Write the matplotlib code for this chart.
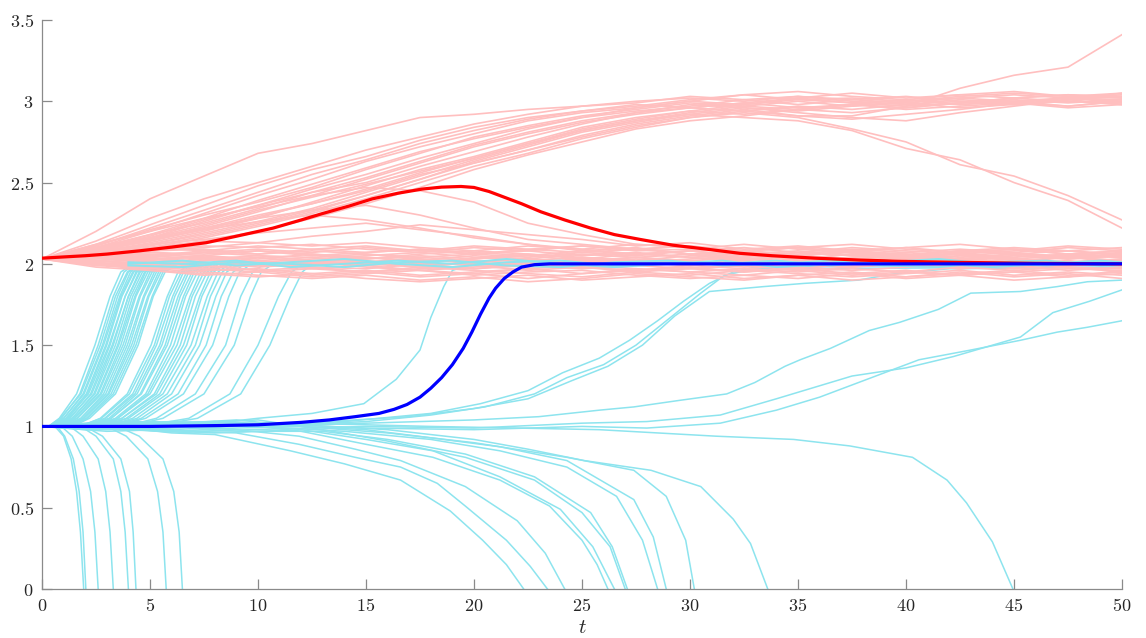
import matplotlib
matplotlib.use('Agg')
import matplotlib.pyplot as plt
from matplotlib.ticker import FuncFormatter

plt.rcParams['mathtext.fontset'] = 'cm'

# colours
pink = '#FFBFBF'
cyan = '#8DE4EE'

# ---------------- pink (upper state) trajectories, sampled every 2.5 time units
t_grid = [0, 2.5, 5, 7.5, 10, 12.5, 15, 17.5, 20, 22.5, 25, 27.5, 30, 32.5, 35, 37.5, 40, 42.5, 45, 47.5, 50]

pink_band = [
    [2.03, 2.05, 2.07, 2.06, 2.08, 2.05, 2.07, 2.09, 2.06, 2.08, 2.05, 2.07, 2.04, 2.06, 2.08, 2.05, 2.07, 2.04, 2.06, 2.05, 2.07],
    [2.03, 2.00, 1.98, 1.96, 1.97, 1.94, 1.96, 1.93, 1.95, 1.97, 1.94, 1.96, 1.98, 1.95, 1.97, 1.94, 1.96, 1.93, 1.95, 1.97, 1.96],
    [2.03, 2.04, 2.02, 2.05, 2.03, 2.06, 2.04, 2.02, 2.05, 2.03, 2.01, 2.04, 2.06, 2.03, 2.01, 2.03, 2.05, 2.06, 2.03, 2.01, 2.03],
    [2.03, 2.01, 2.03, 2.00, 2.02, 1.99, 2.01, 2.03, 2.00, 1.98, 2.00, 2.02, 1.99, 2.01, 2.03, 2.01, 1.99, 2.01, 2.03, 2.00, 2.02],
    [2.03, 2.06, 2.09, 2.11, 2.10, 2.12, 2.09, 2.07, 2.10, 2.08, 2.11, 2.09, 2.06, 2.08, 2.10, 2.07, 2.05, 2.08, 2.10, 2.08, 2.06],
    [2.03, 1.99, 1.97, 1.95, 1.93, 1.91, 1.93, 1.90, 1.92, 1.89, 1.91, 1.94, 1.92, 1.90, 1.93, 1.95, 1.92, 1.94, 1.96, 1.93, 1.95],
    [2.03, 2.02, 2.00, 2.02, 2.04, 2.01, 1.99, 2.01, 2.03, 2.05, 2.02, 2.00, 2.02, 2.04, 2.01, 1.99, 2.02, 2.00, 1.98, 2.00, 1.99],
    [2.03, 2.04, 2.06, 2.04, 2.01, 2.03, 2.05, 2.07, 2.04, 2.02, 2.04, 2.01, 2.03, 2.05, 2.03, 2.06, 2.04, 2.02, 2.04, 2.06, 2.04],
    [2.03, 2.01, 1.98, 1.99, 1.96, 1.98, 1.95, 1.97, 1.99, 1.96, 1.98, 1.95, 1.97, 1.99, 1.96, 1.98, 2.00, 1.97, 1.99, 1.96, 1.98],
    [2.03, 2.05, 2.04, 2.07, 2.09, 2.07, 2.10, 2.08, 2.11, 2.09, 2.07, 2.09, 2.11, 2.08, 2.06, 2.09, 2.07, 2.09, 2.07, 2.10, 2.08],
    [2.03, 2.00, 2.01, 1.98, 2.00, 1.97, 1.95, 1.98, 1.96, 1.94, 1.92, 1.95, 1.93, 1.96, 1.94, 1.92, 1.94, 1.96, 1.93, 1.95, 1.93],
    [2.03, 2.03, 2.05, 2.03, 2.00, 2.02, 2.00, 1.98, 2.01, 1.99, 2.02, 2.04, 2.01, 1.99, 1.97, 2.00, 2.02, 2.05, 2.02, 2.04, 2.01],
    [2.03, 2.02, 1.99, 1.97, 1.99, 2.01, 1.98, 1.96, 1.94, 1.97, 1.99, 1.97, 1.95, 1.97, 1.99, 2.02, 1.99, 1.97, 2.00, 1.98, 1.97],
    [2.03, 2.06, 2.08, 2.10, 2.13, 2.11, 2.13, 2.10, 2.08, 2.11, 2.09, 2.12, 2.10, 2.08, 2.10, 2.12, 2.09, 2.07, 2.09, 2.06, 2.08],
    [2.03, 2.00, 1.96, 1.94, 1.92, 1.94, 1.91, 1.89, 1.91, 1.93, 1.90, 1.92, 1.94, 1.91, 1.93, 1.90, 1.92, 1.95, 1.92, 1.94, 1.91],
    [2.03, 2.04, 2.01, 2.03, 2.05, 2.04, 2.06, 2.03, 2.01, 2.03, 2.06, 2.04, 2.02, 2.00, 2.02, 2.04, 2.06, 2.03, 2.05, 2.03, 2.05],
    [2.03, 2.02, 2.04, 2.01, 1.98, 2.00, 2.02, 1.99, 1.97, 2.00, 2.02, 1.99, 1.97, 1.95, 1.98, 1.96, 1.98, 2.00, 1.97, 1.99, 2.00],
    [2.03, 2.05, 2.08, 2.09, 2.06, 2.08, 2.06, 2.04, 2.06, 2.04, 2.07, 2.05, 2.08, 2.10, 2.07, 2.05, 2.03, 2.05, 2.07, 2.04, 2.06],
    [2.03, 2.06, 2.03, 2.05, 2.02, 2.04, 2.01, 2.04, 2.02, 2.00, 2.03, 2.06, 2.04, 2.02, 2.05, 2.08, 2.05, 2.03, 2.01, 2.04, 2.02],
    [2.03, 1.99, 2.00, 1.97, 1.95, 1.97, 1.99, 1.96, 1.98, 2.01, 1.98, 1.96, 1.99, 1.97, 1.95, 1.97, 1.95, 1.98, 1.96, 1.98, 1.95],
    [2.03, 2.07, 2.05, 2.08, 2.06, 2.09, 2.11, 2.08, 2.06, 2.09, 2.11, 2.08, 2.09, 2.12, 2.09, 2.07, 2.10, 2.12, 2.09, 2.08, 2.10],
    [2.03, 2.02, 2.05, 2.07, 2.05, 2.02, 2.04, 2.01, 1.99, 2.02, 2.00, 2.03, 2.00, 2.03, 2.05, 2.02, 2.00, 2.03, 2.01, 1.99, 2.02],
    [2.03, 2.00, 1.97, 1.99, 1.96, 1.93, 1.95, 1.92, 1.94, 1.91, 1.94, 1.97, 1.95, 1.93, 1.91, 1.94, 1.91, 1.93, 1.90, 1.92, 1.94],
    [2.03, 2.05, 2.07, 2.05, 2.08, 2.06, 2.03, 2.06, 2.08, 2.06, 2.04, 2.02, 2.05, 2.07, 2.05, 2.03, 2.05, 2.08, 2.06, 2.08, 2.05],
    [2.03, 2.01, 2.03, 2.04, 2.01, 1.98, 1.97, 2.00, 1.97, 1.99, 1.97, 1.99, 2.01, 1.98, 2.00, 1.98, 2.01, 1.98, 2.00, 2.02, 1.99],
    [2.03, 2.04, 2.00, 2.01, 1.99, 2.01, 2.03, 2.05, 2.03, 2.06, 2.03, 2.01, 1.99, 2.02, 1.99, 2.02, 2.04, 2.01, 1.98, 2.01, 2.03],
    [2.03, 2.06, 2.10, 2.08, 2.11, 2.09, 2.07, 2.09, 2.07, 2.05, 2.08, 2.06, 2.08, 2.05, 2.07, 2.10, 2.08, 2.06, 2.08, 2.11, 2.09],
    [2.03, 1.98, 1.96, 1.93, 1.95, 1.92, 1.94, 1.96, 1.93, 1.95, 1.96, 1.93, 1.91, 1.93, 1.96, 1.93, 1.95, 1.93, 1.95, 1.92, 1.96],
]

pink_mid = [
    [2.03, 2.08, 2.12, 2.15, 2.19, 2.22, 2.25, 2.21, 2.17, 2.12, 2.08, 2.10, 2.06, 2.08, 2.05, 2.07, 2.04, 2.06, 2.03, 2.05, 2.04],
    [2.03, 2.07, 2.10, 2.14, 2.13, 2.17, 2.20, 2.24, 2.21, 2.18, 2.15, 2.11, 2.13, 2.09, 2.11, 2.08, 2.10, 2.07, 2.09, 2.06, 2.08],
    [2.03, 2.09, 2.15, 2.21, 2.26, 2.30, 2.27, 2.22, 2.16, 2.12, 2.09, 2.06, 2.08, 2.05, 2.03, 2.06, 2.04, 2.02, 2.05, 2.03, 2.05],
    [2.03, 2.12, 2.20, 2.28, 2.35, 2.42, 2.47, 2.45, 2.38, 2.25, 2.18, 2.12, 2.10, 2.08, 2.10, 2.07, 2.05, 2.08, 2.06, 2.04, 2.06],
    [2.03, 2.10, 2.16, 2.22, 2.28, 2.33, 2.36, 2.30, 2.22, 2.15, 2.12, 2.09, 2.11, 2.07, 2.05, 2.08, 2.06, 2.03, 2.06, 2.04, 2.02],
]

pink_upper = [
    [2.03, 2.20, 2.40, 2.54, 2.68, 2.74, 2.82, 2.90, 2.92, 2.95, 2.97, 3.00, 3.02, 3.00, 3.03, 3.01, 2.99, 3.02, 3.04, 3.02, 3.04],
    [2.03, 2.14, 2.28, 2.40, 2.50, 2.60, 2.70, 2.78, 2.86, 2.92, 2.97, 2.99, 3.03, 3.01, 2.98, 3.01, 3.03, 3.00, 2.98, 3.01, 3.03],
    [2.03, 2.12, 2.24, 2.36, 2.48, 2.58, 2.66, 2.76, 2.84, 2.90, 2.94, 2.98, 2.96, 2.99, 3.02, 2.99, 2.97, 2.99, 3.02, 3.00, 2.98],
    [2.03, 2.10, 2.20, 2.31, 2.42, 2.52, 2.63, 2.72, 2.80, 2.88, 2.93, 2.96, 3.00, 3.04, 3.01, 3.02, 3.00, 3.03, 3.05, 3.03, 3.02],
    [2.03, 2.11, 2.21, 2.30, 2.38, 2.47, 2.58, 2.68, 2.78, 2.85, 2.91, 2.95, 2.99, 2.97, 2.95, 2.93, 2.96, 2.99, 3.01, 2.99, 3.01],
    [2.03, 2.09, 2.17, 2.27, 2.36, 2.46, 2.55, 2.65, 2.74, 2.83, 2.90, 2.94, 2.97, 3.01, 3.03, 3.00, 2.98, 3.00, 2.98, 3.00, 2.99],
    [2.03, 2.08, 2.15, 2.23, 2.32, 2.42, 2.52, 2.62, 2.72, 2.80, 2.87, 2.92, 2.96, 2.99, 2.96, 2.98, 3.01, 2.98, 3.00, 2.97, 3.00],
    [2.03, 2.10, 2.18, 2.25, 2.34, 2.44, 2.50, 2.60, 2.69, 2.78, 2.86, 2.93, 2.98, 2.96, 2.93, 2.90, 2.88, 2.93, 2.97, 3.01, 3.05],
    [2.03, 2.07, 2.13, 2.20, 2.28, 2.38, 2.48, 2.58, 2.66, 2.75, 2.84, 2.90, 2.94, 2.92, 2.95, 2.98, 2.96, 2.99, 3.02, 3.04, 3.02],
    [2.03, 2.06, 2.12, 2.19, 2.26, 2.34, 2.44, 2.54, 2.64, 2.73, 2.82, 2.88, 2.93, 2.97, 3.00, 2.97, 2.99, 2.96, 2.98, 3.01, 2.98],
    [2.03, 2.08, 2.14, 2.22, 2.30, 2.37, 2.45, 2.55, 2.62, 2.70, 2.79, 2.86, 2.91, 2.95, 2.91, 2.89, 2.92, 2.95, 2.99, 3.02, 3.00],
    [2.03, 2.09, 2.16, 2.26, 2.36, 2.44, 2.53, 2.63, 2.73, 2.81, 2.88, 2.93, 2.96, 2.94, 2.91, 2.91, 2.97, 3.08, 3.16, 3.21, 3.41],
    [2.03, 2.07, 2.12, 2.18, 2.25, 2.33, 2.42, 2.52, 2.62, 2.70, 2.78, 2.85, 2.90, 2.93, 2.90, 2.83, 2.75, 2.61, 2.54, 2.42, 2.27],
    [2.03, 2.08, 2.14, 2.21, 2.29, 2.37, 2.46, 2.56, 2.65, 2.74, 2.82, 2.88, 2.92, 2.90, 2.88, 2.82, 2.71, 2.64, 2.50, 2.39, 2.22],
    [2.03, 2.08, 2.16, 2.24, 2.33, 2.41, 2.49, 2.57, 2.65, 2.74, 2.83, 2.89, 2.94, 2.98, 3.02, 3.05, 3.02, 3.04, 3.06, 3.03, 3.05],
    [2.03, 2.06, 2.10, 2.16, 2.23, 2.31, 2.40, 2.50, 2.60, 2.68, 2.77, 2.84, 2.90, 2.94, 2.97, 2.95, 2.98, 3.01, 2.99, 2.97, 3.00],
    [2.03, 2.11, 2.22, 2.33, 2.44, 2.55, 2.64, 2.74, 2.82, 2.89, 2.94, 2.97, 3.01, 3.04, 3.06, 3.03, 3.01, 3.04, 3.02, 3.04, 3.03],
    [2.03, 2.07, 2.11, 2.17, 2.24, 2.32, 2.42, 2.52, 2.63, 2.72, 2.81, 2.87, 2.92, 2.96, 2.94, 2.97, 3.00, 3.02, 3.00, 3.02, 2.99],
    [2.03, 2.09, 2.18, 2.28, 2.39, 2.49, 2.59, 2.69, 2.77, 2.84, 2.90, 2.96, 3.00, 2.98, 3.01, 2.99, 3.01, 2.98, 3.00, 3.02, 3.01],
    [2.03, 2.05, 2.09, 2.14, 2.20, 2.28, 2.37, 2.47, 2.58, 2.67, 2.75, 2.83, 2.88, 2.91, 2.95, 2.98, 2.95, 2.97, 2.99, 2.96, 2.98],
]

# ---------------- cyan (lower state) trajectories
# fast switches 1 -> 2: time at which each path crosses these levels
up_levels = [1.0, 1.05, 1.2, 1.5, 1.8, 1.95, 2.0]
up_times = [
    [0.3, 0.8, 1.6, 2.45, 3.15, 3.65, 4.2],
    [0.4, 0.9, 1.75, 2.6, 3.3, 3.8, 4.3],
    [0.3, 0.85, 1.8, 2.7, 3.4, 3.95, 4.5],
    [0.5, 1.0, 1.9, 2.8, 3.5, 4.0, 4.6],
    [0.4, 1.0, 1.95, 2.85, 3.6, 4.1, 4.6],
    [0.5, 1.1, 2.05, 2.95, 3.65, 4.2, 4.8],
    [0.6, 1.2, 2.1, 3.0, 3.7, 4.25, 4.8],
    [0.5, 1.15, 2.15, 3.1, 3.85, 4.35, 4.9],
    [0.7, 1.3, 2.25, 3.15, 3.85, 4.4, 5.0],
    [0.6, 1.25, 2.3, 3.25, 4.0, 4.5, 5.1],
    [0.8, 1.4, 2.4, 3.3, 4.0, 4.55, 5.1],
    [0.7, 1.4, 2.45, 3.4, 4.1, 4.65, 5.2],
    [0.9, 1.5, 2.55, 3.5, 4.2, 4.75, 5.3],
    [0.8, 1.5, 2.6, 3.55, 4.3, 4.8, 5.4],
    [1.0, 1.6, 2.7, 3.65, 4.35, 4.9, 5.5],
    [0.9, 1.65, 2.75, 3.75, 4.5, 5.0, 5.6],
    [1.1, 1.8, 2.85, 3.85, 4.55, 5.1, 5.7],
    [1.0, 1.8, 2.95, 3.95, 4.7, 5.2, 5.8],
    [1.2, 1.9, 3.05, 4.05, 4.75, 5.3, 5.9],
    [1.1, 1.95, 3.1, 4.15, 4.9, 5.4, 6.0],
    [1.3, 2.05, 3.2, 4.25, 4.95, 5.5, 6.1],
    [1.2, 2.1, 3.3, 4.35, 5.1, 5.6, 6.2],
    [1.4, 2.2, 3.4, 4.45, 5.15, 5.7, 6.3],
    [1.8, 2.7, 3.95, 5.05, 5.8, 6.3, 6.9],
    [1.7, 2.75, 4.05, 5.2, 5.9, 6.45, 7.0],
    [2.0, 2.9, 4.2, 5.3, 6.05, 6.55, 7.2],
    [1.9, 2.95, 4.3, 5.45, 6.15, 6.7, 7.3],
    [2.1, 3.1, 4.4, 5.55, 6.3, 6.8, 7.4],
    [2.2, 3.2, 4.55, 5.7, 6.4, 6.95, 7.5],
    [2.1, 3.2, 4.6, 5.8, 6.55, 7.05, 7.6],
    [2.3, 3.4, 4.8, 5.95, 6.65, 7.2, 7.8],
    [2.4, 3.5, 4.9, 6.1, 6.85, 7.35, 7.9],
    [2.3, 3.5, 5.0, 6.25, 6.95, 7.5, 8.1],
    [2.6, 3.7, 5.2, 6.4, 7.1, 7.65, 8.2],
    [2.5, 3.7, 5.3, 6.55, 7.3, 7.8, 8.4],
    [2.8, 3.9, 5.45, 6.7, 7.4, 7.95, 8.5],
    [2.7, 4.0, 5.6, 6.9, 7.65, 8.15, 8.7],
    [3.0, 4.2, 5.8, 7.1, 7.8, 8.35, 8.9],
    [3.1, 4.4, 6.0, 7.3, 8.05, 8.55, 9.1],
    [3.3, 4.6, 6.3, 7.6, 8.3, 8.85, 9.4],
    [3.4, 4.8, 6.55, 7.9, 8.65, 9.15, 9.7],
    [3.8, 5.3, 7.1, 8.5, 9.2, 9.75, 10.3],
    [4.0, 5.6, 7.5, 8.9, 9.65, 10.15, 10.7],
    [4.6, 6.8, 8.7, 10.0, 10.95, 11.55, 12.1],
    [5.0, 7.2, 9.2, 10.55, 11.5, 12.05, 12.5],
]

# fast extinctions 1 -> 0
drop_levels = [1.0, 0.94, 0.8, 0.6, 0.35, 0.0]
drop_times = [
    [0.6, 1.0, 1.35, 1.6, 1.78, 1.93],
    [0.7, 1.05, 1.45, 1.72, 1.9, 2.03],
    [0.9, 1.4, 1.9, 2.25, 2.45, 2.6],
    [1.3, 1.9, 2.6, 2.95, 3.15, 3.3],
    [1.8, 2.5, 3.3, 3.65, 3.85, 4.0],
    [2.0, 2.8, 3.65, 4.05, 4.22, 4.35],
    [3.0, 3.9, 4.9, 5.35, 5.6, 5.75],
    [3.5, 4.5, 5.6, 6.1, 6.35, 6.5],
]

# slow paths, (t, y) points
cyan_late_drops = [
    [(0, 1.0), (2, 0.98), (4, 0.99), (6, 0.96), (8, 0.95), (11.5, 0.85), (14, 0.77), (16.6, 0.67), (18.9, 0.48), (20.4, 0.3), (21.5, 0.15), (22.3, 0.0)],
    [(0, 1.0), (2.5, 1.02), (5, 0.99), (7, 0.97), (9, 0.96), (11.9, 0.89), (14.5, 0.81), (16.6, 0.75), (18.3, 0.65), (19.6, 0.51), (21.5, 0.3), (22.6, 0.14), (23.4, 0.0)],
    [(0, 1.0), (3, 0.98), (6, 1.0), (9, 0.98), (11.9, 0.94), (14.5, 0.86), (16.6, 0.79), (19.6, 0.63), (22, 0.42), (23.3, 0.22), (24.2, 0.0)],
    [(0, 1.0), (3, 1.03), (6, 1.01), (8, 1.03), (10, 1.0), (12, 0.97), (15, 0.89), (18.1, 0.81), (21.2, 0.67), (23.5, 0.51), (25.0, 0.30), (25.7, 0.15), (26.2, 0.0)],
    [(0, 1.0), (3, 0.97), (5.5, 0.98), (8, 0.96), (12, 0.98), (15, 0.92), (18.1, 0.85), (21.2, 0.69), (24.0, 0.49), (25.5, 0.26), (26.5, 0.0)],
    [(0, 1.0), (4, 1.03), (7, 1.02), (10, 1.04), (13, 0.98), (16, 0.91), (19.6, 0.81), (22.8, 0.67), (25.0, 0.47), (26.3, 0.26), (27.0, 0.0)],
    [(0, 1.0), (4, 0.98), (7, 0.96), (10, 0.97), (13, 0.97), (16, 0.92), (19.6, 0.83), (22.8, 0.69), (25.4, 0.47), (26.4, 0.26), (27.1, 0.0)],
    [(0, 1.0), (5, 1.02), (10, 1.0), (14, 0.97), (18, 0.92), (21.2, 0.85), (24.3, 0.75), (26.6, 0.57), (27.8, 0.30), (28.5, 0.0)],
    [(0, 1.0), (5, 1.01), (9, 1.04), (12, 1.0), (15, 0.98), (18, 0.93), (21.2, 0.875), (24.3, 0.79), (27.4, 0.55), (28.3, 0.32), (28.9, 0.0)],
    [(0, 1.0), (6, 0.97), (9, 0.99), (12, 1.0), (16, 0.96), (20, 0.9), (24.3, 0.81), (27.4, 0.73), (28.9, 0.57), (29.8, 0.30), (30.2, 0.0)],
    [(0, 1.0), (6, 1.03), (12, 1.01), (16, 0.98), (20, 0.92), (22.5, 0.86), (25.1, 0.79), (28.2, 0.73), (30.5, 0.63), (32.0, 0.43), (32.8, 0.28), (33.6, 0.0)],
    [(0, 1.0), (6, 1.01), (12, 1.02), (18, 1.0), (22, 0.99), (25.8, 0.98), (31.2, 0.94), (34.8, 0.92), (37.4, 0.88), (40.3, 0.81), (41.9, 0.67), (42.8, 0.53), (44.0, 0.29), (44.95, 0.0)],
]

cyan_late_rises = [
    [(0, 1.0), (4, 1.02), (8, 1.02), (10, 1.05), (12.5, 1.08), (14.9, 1.14), (16.4, 1.29), (17.5, 1.47), (18.0, 1.67), (18.6, 1.86), (19.0, 1.96), (20, 2.0), (50, 2.0)],
    [(0, 1.0), (4, 0.98), (8, 1.0), (14, 1.03), (18, 1.08), (20.3, 1.14), (22.5, 1.22), (24.1, 1.33), (25.8, 1.42), (27.2, 1.53), (28.5, 1.65), (29.7, 1.77), (30.9, 1.88), (32, 1.95), (33, 1.98), (50, 2.0)],
    [(0, 1.0), (5, 1.03), (10, 1.0), (15, 1.03), (18, 1.07), (20.5, 1.12), (22.8, 1.2), (24.3, 1.3), (26, 1.38), (27.5, 1.5), (29, 1.66), (30.5, 1.82), (31.6, 1.93), (33, 1.97), (50, 1.98)],
    [(0, 1.0), (6, 0.98), (12, 1.02), (17, 1.06), (20, 1.11), (22.5, 1.17), (24.5, 1.28), (26.2, 1.37), (27.8, 1.5), (29.3, 1.68), (30.9, 1.83), (33.4, 1.86), (35.3, 1.88), (37.8, 1.9), (39.5, 1.94), (42, 1.97), (50, 1.98)],
    [(0, 1.0), (5, 1.02), (10, 1.0), (15, 1.02), (20, 1.04), (23, 1.06), (25.8, 1.10), (27.4, 1.12), (29.5, 1.16), (31.7, 1.2), (33, 1.27), (34.4, 1.37), (35.1, 1.41), (36.5, 1.48), (38.3, 1.59), (39.7, 1.64), (41.5, 1.72), (43, 1.82), (45.3, 1.83), (47, 1.86), (48.4, 1.89), (50, 1.9)],
    [(0, 1.0), (7, 0.97), (15, 1.0), (20, 0.99), (25, 1.02), (28, 1.03), (31.4, 1.07), (34, 1.17), (37.5, 1.31), (40, 1.36), (42.2, 1.43), (45.3, 1.55), (46.8, 1.70), (48.5, 1.77), (50, 1.84)],
    [(0, 1.0), (8, 1.03), (15, 0.99), (20, 0.98), (25, 1.0), (28, 0.99), (31.4, 1.02), (34, 1.1), (36, 1.18), (38, 1.28), (40.6, 1.41), (43, 1.47), (45.3, 1.53), (47, 1.58), (48.4, 1.61), (50, 1.65)],
]

# cyan paths that sit in the upper state
t_cband = [4, 6.5, 9, 11.5, 14, 16.5, 19, 21.5, 24, 26.5, 29, 31.5, 34, 36.5, 39, 41.5, 44, 46.5, 49, 50]
cyan_band = [
    [2.00, 2.02, 1.99, 2.01, 2.03, 2.00, 1.98, 2.01, 2.02, 1.99, 2.01, 2.00, 2.02, 1.99, 2.01, 2.03, 2.00, 1.99, 2.01, 2.00],
    [1.99, 1.98, 2.01, 2.00, 1.98, 2.01, 2.02, 1.99, 1.98, 2.01, 2.02, 1.99, 2.00, 2.02, 1.99, 1.98, 2.01, 2.02, 1.99, 2.00],
    [2.01, 2.00, 2.02, 1.98, 2.00, 2.02, 2.00, 2.03, 2.00, 1.98, 2.00, 2.02, 1.98, 2.00, 2.02, 2.00, 1.98, 2.00, 2.02, 2.01],
]

# mean / deterministic curves
t_red = [0, 2, 3, 4.5, 6, 7.6, 9, 10.7, 12, 13, 14.2, 15.3, 16.5, 17.6, 18.5, 19.4, 20.0, 20.7, 21.4, 22.2, 23.1,
         24.2, 25.4, 26.5, 27.7, 29.2, 30.8, 32.3, 33.8, 35.8, 37.9, 40, 42, 46, 50]
y_red = [2.035, 2.05, 2.06, 2.08, 2.103, 2.13, 2.17, 2.22, 2.27, 2.31, 2.355, 2.40, 2.435, 2.46, 2.472, 2.476, 2.47,
         2.445, 2.41, 2.37, 2.32, 2.27, 2.22, 2.18, 2.15, 2.115, 2.09, 2.065, 2.05, 2.035, 2.023, 2.015, 2.01, 2.003, 2.0]

t_blue = [0, 5, 8, 10, 12, 13.3, 14.5, 15.6, 16.3, 16.9, 17.5, 18.0, 18.5, 19.0, 19.5, 19.9, 20.3, 20.7, 21.0, 21.4,
          21.8, 22.2, 22.8, 23.5, 50]
y_blue = [1.0, 1.0, 1.005, 1.01, 1.025, 1.04, 1.06, 1.08, 1.105, 1.135, 1.18, 1.235, 1.30, 1.38, 1.48, 1.58, 1.69,
          1.79, 1.85, 1.91, 1.95, 1.98, 1.995, 2.0, 2.0]

x_ticks = [0, 5, 10, 15, 20, 25, 30, 35, 40, 45, 50]
y_ticks = [0, 0.5, 1, 1.5, 2, 2.5, 3, 3.5]

# ---------------- figure
fig = plt.figure(figsize=(11.46, 6.38), dpi=100)
ax = fig.add_axes([42 / 1146, 49 / 638, 1080 / 1146, 569 / 638])

lw = 1.1

# cyan switching / extinction paths (under the pink band)
for row in up_times:
    ax.plot([0] + row + [50], [1.0] + up_levels + [2.0], color=cyan, lw=lw, zorder=1)
for row in drop_times:
    ax.plot([0] + row, [1.0] + drop_levels, color=cyan, lw=lw, zorder=1)
for path in cyan_late_drops + cyan_late_rises:
    ax.plot([p[0] for p in path], [p[1] for p in path], color=cyan, lw=lw, zorder=1)

# pink paths
for ys in pink_band + pink_mid + pink_upper:
    ax.plot(t_grid, ys, color=pink, lw=lw + 0.1, zorder=2)

# cyan paths in the upper state on top of the pink band
for ys in cyan_band:
    ax.plot(t_cband, ys, color=cyan, lw=lw + 0.3, zorder=3)

ax.plot(t_red, y_red, color='#FF0000', lw=2.3, zorder=4)
ax.plot(t_blue, y_blue, color='#0000FF', lw=2.3, zorder=5)

ax.set_xlim(0, 50)
ax.set_ylim(0, 3.5)
ax.set_xticks(x_ticks)
ax.set_yticks(y_ticks)
fmt = FuncFormatter(lambda v, pos: '$%g$' % v)
ax.xaxis.set_major_formatter(fmt)
ax.yaxis.set_major_formatter(fmt)

for side in ['top', 'right']:
    ax.spines[side].set_visible(False)
for side in ['left', 'bottom']:
    ax.spines[side].set_color('#8a8a8a')
    ax.spines[side].set_linewidth(0.9)
ax.tick_params(direction='in', length=7.5, width=0.9, color='#8a8a8a',
               labelsize=13, labelcolor='#262626', pad=6)
ax.set_xlabel('$t$', fontsize=15, color='#262626', labelpad=1)

fig.savefig('out.png', dpi=100)
